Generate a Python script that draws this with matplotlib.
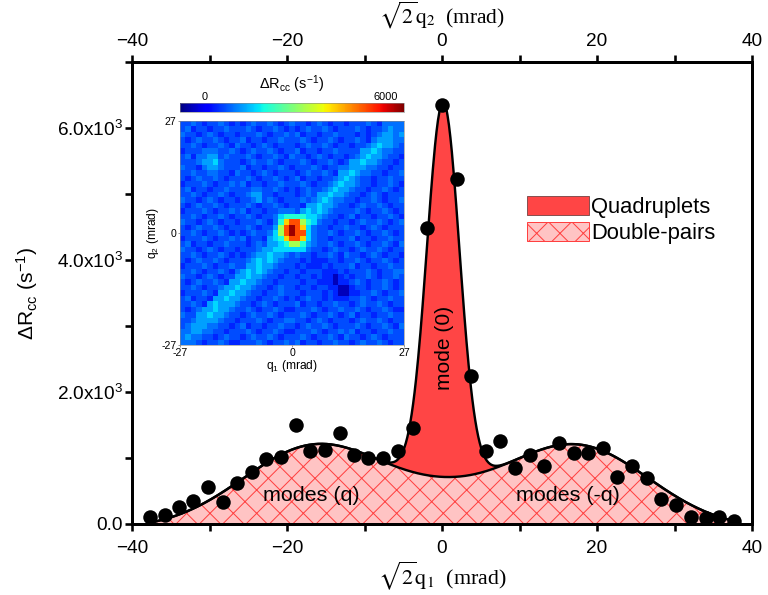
import numpy as np
import matplotlib
matplotlib.use("Agg")
import matplotlib.pyplot as plt
from matplotlib.patches import Patch
from matplotlib.ticker import MultipleLocator, FixedLocator, FuncFormatter

DPI = 140


def px(v):
    """Convert a size in pixels to points for this figure resolution."""
    return v * 72.0 / DPI


plt.rcParams.update({
    "font.family": ["Liberation Sans", "DejaVu Sans"],
    "mathtext.fontset": "custom",
    "mathtext.rm": "Liberation Sans",
    "mathtext.it": "Liberation Sans:italic",
    "mathtext.bf": "Liberation Sans:bold",
    "hatch.linewidth": px(1.0),
})

# ---- coincidence-rate excess along the cut (sqrt(2) q1, mrad) ----
q_cut = [-37.7, -35.8, -33.9, -32.1, -30.2, -28.3, -26.5, -24.5, -22.7, -20.8,
         -18.9, -17.0, -15.1, -13.2, -11.3, -9.5, -7.6, -5.7, -3.8, -1.9,
         0.0, 1.9, 3.8, 5.7, 7.5, 9.4, 11.3, 13.2, 15.1, 17.0,
         18.9, 20.8, 22.6, 24.5, 26.4, 28.3, 30.2, 32.1, 34.0, 35.8, 37.7]
rate = [100, 135, 255, 350, 560, 335, 625, 790, 985, 1020,
        1500, 1110, 1120, 1375, 1045, 995, 995, 1105, 1460, 4480,
        6350, 5230, 2240, 1110, 1260, 850, 1045, 885, 1220, 1070,
        1080, 1145, 715, 885, 690, 375, 285, 110, 95, 105, 40]

x_major = [-40, -20, 0, 20, 40]
x_minor = [-30, -10, 10, 30]

# ---- fitted components ----
pair_amp = 1280.0
pair_centers = (-16.0, 17.0)
pair_width = 9.6
pair_mid_amp = 208.0
pair_mid_width = 6.5
pair_offset = -80.0
quad_amp = 5680.0
quad_center = 0.15
quad_width = 2.1


def gauss(x, mu, sig):
    return np.exp(-(x - mu) ** 2 / (2.0 * sig ** 2))


def pairs_model(x):
    return (pair_amp * (gauss(x, pair_centers[0], pair_width) + gauss(x, pair_centers[1], pair_width))
            + pair_mid_amp * gauss(x, 0.0, pair_mid_width) + pair_offset)


def quad_model(x):
    return quad_amp * gauss(x, quad_center, quad_width)


# ---- 2D correlation map (q1, q2), coded levels per pixel ----
map_levels = {"0": -400, "1": 400, "2": 700, "3": 950, "4": 1300, "5": 1700,
              "6": 2100, "7": 3300, "8": 4300, "9": 5300, "A": 6400}
map_rows = [
    "2232122321 2123223212 3221232122 1222321333 3",
    "2312212232 2232122321 2123223212 2232122343 3",
    "3221232122 1222321223 2312212232 2212123443 4",
    "2123223212 2312212232 2232122321 2232134443 3",
    "2232122321 3221232122 2123223212 2122345443 2",
    "1222333223 2123223212 2312212232 2224454332 2",
    "2313344232 2232122321 3221232122 1234544322 1",
    "2223445322 2123223212 2232122321 2445443221 2",
    "3221344322 2312212232 1222321223 3444332212 2",
    "2232233221 3221232122 2123223214 4543322122 3",
    "2123223212 2232122321 2312212234 5432212232 2",
    "1222321223 2312212232 2232122345 4432212232 1",
    "2312212232 2223322321 2123223454 4322122321 2",
    "2232122321 2234422122 2123244544 3221232122 2",
    "3221232122 1223423212 2232345433 2212232122 3",
    "2123223212 2232122321 2214454432 2123223212 2",
    "1222321223 2312212233 3245454322 2232122321 2",
    "2232122321 2232122356 6665543221 2312212232 1",
    "3221232122 1222321368 9976532212 2123223212 3",
    "2123223212 2232122479 A985322122 3221232122 2",
    "2232122321 2123223579 A995322321 2232122321 2",
    "1222321223 2312214568 9985322122 2312212232 2",
    "2312212232 2212324456 7764322321 2232122321 3",
    "3221232122 1222344555 5553221232 2123223212 2",
    "2232122321 2123445443 2322122321 3221232122 1",
    "2123223212 2234545432 2212111221 2232122321 2",
    "1222321223 2244544322 2121112122 2312212232 2",
    "2232122321 3454543221 2212221112 1222321223 3",
    "3221232122 4454432212 2122121101 2122321223 2",
    "2123223214 4544322122 2212211101 1232122321 2",
    "2232122344 5443221232 2122122110 0122122321 2",
    "1222321445 4432212232 2212221210 0112232122 3",
    "2312214454 4322122321 2123221211 1223212232 2",
    "2232145444 3221232122 2312212232 2123223212 2",
    "2123445443 2232122321 1222321223 2232122321 1",
    "3224454432 2123223212 2232122321 2312212232 2",
    "2234444322 1222321223 3221232122 2123223212 2",
    "2344433221 2312212232 2123223212 2232122321 3",
    "3344332212 2232122321 1222321223 2312212232 2",
    "3433221232 2123223212 2232122321 3221232122 2",
    "3332122321 1222321223 2312212232 2123223212 2",
]
map_extent = 27
map_ticks = [-27, 0, 27]
cbar_ticks = [0, 6000]

corr_map = np.array([[map_levels[ch] for ch in row.replace(" ", "")] for row in map_rows], dtype=float)

# ---- figure ----
W, H = 768, 595
fig = plt.figure(figsize=(W / DPI, H / DPI), dpi=DPI)
ax = fig.add_axes([132 / W, 1 - 524 / H, 620 / W, 462 / H])

x = np.linspace(q_cut[0], q_cut[-1], 800)
lower = pairs_model(x)
upper = lower + quad_model(x)

pair_face, pair_hatch = "#FFC4C4", "#FF4040"
quad_face = "#FF4545"

ax.fill_between(x, 0, lower, facecolor=pair_face, edgecolor=pair_hatch, hatch="xx",
                linewidth=0, zorder=1)
ax.fill_between(x, lower, upper, facecolor=quad_face, linewidth=0, zorder=1)
ax.plot(x, lower, color="black", lw=px(2.4), zorder=2)
ax.plot(x, upper, color="black", lw=px(2.4), zorder=2)
ax.plot(q_cut, rate, "o", color="black", ms=px(14.5), mew=0, zorder=3)

ax.set_xlim(-40, 40)
ax.set_ylim(0, 7000)
ax.xaxis.set_major_locator(FixedLocator(x_major))
ax.xaxis.set_minor_locator(FixedLocator(x_minor))
ax.yaxis.set_major_locator(MultipleLocator(2000))
ax.yaxis.set_minor_locator(MultipleLocator(1000))
ax.yaxis.set_major_formatter(FuncFormatter(
    lambda v, _: "0.0" if v == 0 else f"{v / 1000:.1f}x10$^{{3}}$"))

for sp in ax.spines.values():
    sp.set_linewidth(px(3))
ax.tick_params(axis="both", which="both", direction="out", width=px(2.6),
               length=px(7), labelsize=px(19), right=False, top=False)
ax.tick_params(axis="x", pad=px(9))
ax.tick_params(axis="y", pad=px(2))

secax = ax.secondary_xaxis("top")
secax.xaxis.set_major_locator(FixedLocator(x_major))
secax.xaxis.set_minor_locator(FixedLocator(x_minor))
secax.tick_params(axis="x", which="both", direction="out", width=px(2.6),
                  length=px(7), labelsize=px(19), pad=px(5))
secax.spines["top"].set_linewidth(px(3))

serif = ["Liberation Serif", "DejaVu Serif"]
ax.set_xlabel(r"$\sqrt{2}\mathrm{q}_{1}$  (mrad)", fontsize=px(22), family=serif,
              math_fontfamily="stix", labelpad=px(2))
secax.set_xlabel(r"$\sqrt{2}\mathrm{q}_{2}$  (mrad)", fontsize=px(21.5), family=serif,
                 math_fontfamily="stix", labelpad=px(9))
ax.set_ylabel(r"$\Delta$R$_{\mathrm{cc}}$ (s$^{\mathrm{-1}}$)", fontsize=px(21), labelpad=px(17))

# component labels
ax.text(0.35, 2670, "mode (0)", rotation=90, ha="center", va="center", fontsize=px(21), zorder=4)
ax.text(-16.8, 430, "modes (q)", ha="center", va="center", fontsize=px(21.5), zorder=4)
ax.text(16.2, 430, "modes (-q)", ha="center", va="center", fontsize=px(21.5), zorder=4)

handles = [Patch(facecolor=quad_face, edgecolor="#8a5050", lw=px(1), label="Quadruplets"),
           Patch(facecolor=pair_face, edgecolor=pair_hatch, hatch="xx", lw=px(1), label="Double-pairs")]
fig.legend(handles=handles, loc="upper left", bbox_to_anchor=(527 / W, 1 - 196 / H),
           frameon=False, fontsize=px(22), handlelength=2.8, handleheight=0.95,
           labelspacing=0.2, handletextpad=0.12, borderpad=0, borderaxespad=0)

# ---- inset correlation map ----
hax = fig.add_axes([180 / W, 1 - 345 / H, 224 / W, 224 / H])
im = hax.imshow(corr_map, cmap="jet", vmin=-800, vmax=6600,
                extent=[-map_extent, map_extent, -map_extent, map_extent],
                interpolation="nearest", aspect="auto")
hax.set_xticks(map_ticks)
hax.set_yticks(map_ticks)
hax.set_xticklabels([str(t) for t in map_ticks])
hax.set_yticklabels([str(t) for t in map_ticks])
hax.tick_params(labelsize=px(10.5), length=px(2), width=px(0.6), pad=px(1.5), color="#555555")
for sp in hax.spines.values():
    sp.set_linewidth(px(0.6))
    sp.set_color("#888888")
hax.set_xlabel("q$_1$ (mrad)", fontsize=px(12), labelpad=px(0))
hax.set_ylabel("q$_2$ (mrad)", fontsize=px(12), labelpad=px(0))

cax = fig.add_axes([180 / W, 1 - 112 / H, 224 / W, 9 / H])
cb = fig.colorbar(im, cax=cax, orientation="horizontal", ticks=cbar_ticks)
cax.xaxis.set_ticks_position("top")
cax.xaxis.set_label_position("top")
cax.tick_params(labelsize=px(11), length=0, pad=px(1))
cb.outline.set_linewidth(px(0.6))
cb.outline.set_edgecolor("#888888")
cb.set_label(r"$\Delta$R$_{\mathrm{cc}}$ (s$^{\mathrm{-1}}$)", fontsize=px(14.5), labelpad=px(3))

fig.savefig("out.png", dpi=DPI)
